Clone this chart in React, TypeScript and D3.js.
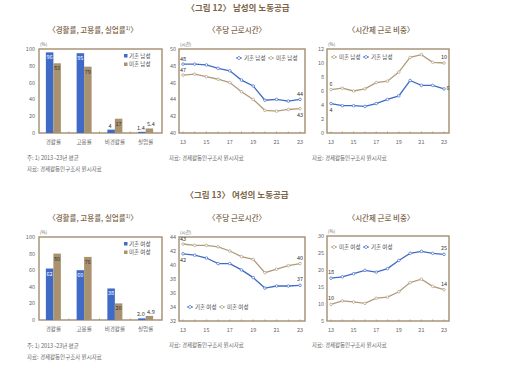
import React from "react";
import * as d3 from "d3";

const FONT = '"Noto Sans CJK KR", "Noto Sans", sans-serif';
const BLUE = "#3f6bc6";
const TAN = "#a8926f";
const TAN_LINE = "#b09c7c";
const FRAME = "#a8937500";
const BORDER = "#a38e70";
const TEXT = "#666";
const TITLE = "#7a6347";

// bar charts
const categories = ["경활률", "고용률", "비경활률", "실업률"];
const maleMarriedRates = [96, 95, 4, 1.4];
const maleSingleRates = [83, 79, 17, 5.4];
const femaleMarriedRates = [62, 60, 38, 2.0];
const femaleSingleRates = [80, 76, 20, 4.9];
const barTicks = [0, 20, 40, 60, 80, 100];

// line charts (2013~2023)
const years = [13, 14, 15, 16, 17, 18, 19, 20, 21, 22, 23];
const yearTicks = [13, 15, 17, 19, 21, 23];
const maleHoursMarried = [48.2, 48.2, 48.1, 47.7, 47.4, 46.3, 45.6, 43.9, 44.0, 43.8, 44.0];
const maleHoursSingle = [46.9, 47.0, 46.7, 46.4, 46.0, 44.9, 44.0, 42.7, 42.6, 42.8, 42.9];
const malePartMarried = [4.2, 3.9, 3.9, 3.8, 4.2, 4.8, 5.3, 7.5, 6.8, 6.8, 6.3];
const malePartSingle = [6.2, 6.4, 6.0, 6.3, 7.2, 7.4, 8.7, 10.8, 11.2, 10.1, 10.0];
const femaleHoursMarried = [41.6, 41.4, 41.0, 40.2, 40.2, 39.3, 38.2, 36.7, 37.0, 37.0, 37.1];
const femaleHoursSingle = [43.0, 42.8, 42.8, 42.6, 42.0, 41.2, 40.8, 38.9, 39.4, 39.9, 40.2];
const femalePartMarried = [17.6, 18.0, 18.9, 19.9, 19.4, 20.4, 22.8, 24.9, 25.5, 24.9, 24.6];
const femalePartSingle = [9.9, 10.9, 10.6, 10.2, 11.7, 12.0, 13.6, 16.3, 17.3, 15.2, 14.2];
const maleHoursTicks = [40, 42, 44, 46, 48, 50];
const malePartTicks = [0, 2, 4, 6, 8, 10, 12];
const femaleHoursTicks = [32, 34, 36, 38, 40, 42, 44];
const femalePartTicks = [5, 10, 15, 20, 25, 30];

const SOURCE = "자료: 경제활동인구조사 원시자료";

interface Box { left: number; right: number; top: number; bottom: number; }

const BarPanel = ({ box, married, single, names }: { box: Box; married: number[]; single: number[]; names: string[] }) => {
  const x = d3.scaleBand<string>().domain(categories).range([box.left - 1, box.right - 1]);
  const y = d3.scaleLinear().domain([0, 100]).range([box.bottom, box.top]);
  const mid = x.bandwidth() / 2;
  const sub = d3.scaleBand<string>().domain(["m", "s"]).range([mid - 7.5, mid + 7.5]);
  const fmt = (v: number, i: number) => (i === 3 ? d3.format(".1f")(v) : d3.format("d")(v));
  return (
    <g>
      <rect x={box.left} y={box.top} width={box.right - box.left} height={box.bottom - box.top} fill="none" stroke={BORDER} strokeWidth={1.4} />
      <text x={box.left + 1} y={box.top - 3} fontSize={4.5} fill={TEXT}>(%)</text>
      {barTicks.map(t => (
        <text key={t} x={box.left - 4} y={y(t) + 2} textAnchor="end" fontSize={5.5} fill={TEXT}>{t}</text>
      ))}
      {categories.slice(1).map(c => (
        <line key={c} x1={x(c)!} x2={x(c)!} y1={box.bottom} y2={box.bottom - 1.5} stroke={BORDER} strokeWidth={0.8} />
      ))}
      {categories.map((c, i) => {
        const gx = x(c)!;
        const bars = [
          { k: "m", v: married[i], color: BLUE, txt: "#fff" },
          { k: "s", v: single[i], color: TAN, txt: "#333" },
        ];
        return (
          <g key={c}>
            {bars.map(b => {
              const bx = gx + sub(b.k)!;
              const inside = b.v > 10;
              const lx = bx + sub.bandwidth() / 2 + (inside ? 0 : b.k === "m" ? -1 : 1.5);
              return (
                <g key={b.k}>
                  <rect x={bx} y={y(b.v)} width={sub.bandwidth()} height={box.bottom - y(b.v)} fill={b.color} />
                  <text x={lx} y={inside ? y(b.v) + 7 : y(b.v) - 2} textAnchor="middle" fontSize={5.5} fill={inside ? b.txt : "#333"}>{fmt(b.v, i)}</text>
                </g>
              );
            })}
            <text x={gx + mid} y={box.bottom + 11} textAnchor="middle" fontSize={5.5} fill={TEXT}>{c}</text>
          </g>
        );
      })}
      {names.map((n, i) => (
        <g key={n}>
          <rect x={box.right - 38} y={box.top + 5 + i * 8.5} width={3.5} height={3.5} fill={i === 0 ? BLUE : TAN} />
          <text x={box.right - 33} y={box.top + 8.5 + i * 8.5} fontSize={5.5} fill="#444">{n}</text>
        </g>
      ))}
    </g>
  );
};

interface Series { values: number[]; color: string; name: string; start: [number, number]; end: [number, number]; }

const Marker = ({ cx, cy, color }: { cx: number; cy: number; color: string }) => (
  <path d={`M${cx},${cy - 1.8}L${cx + 1.8},${cy}L${cx},${cy + 1.8}L${cx - 1.8},${cy}Z`} fill="#fff" stroke={color} strokeWidth={0.8} />
);

const LinePanel = ({ box, domain, ticks, unit, series, legend }: {
  box: Box; domain: [number, number]; ticks: number[]; unit: string; series: Series[]; legend: { x: number; y: number; order: number[] };
}) => {
  const x = d3.scaleLinear().domain([13, 23]).range([box.left + 4, box.right - 5]);
  const y = d3.scaleLinear().domain(domain).range([box.bottom, box.top]);
  const line = d3.line<number>().x((_, i) => x(years[i])).y(v => y(v));
  return (
    <g>
      <rect x={box.left} y={box.top} width={box.right - box.left} height={box.bottom - box.top} fill="none" stroke={BORDER} strokeWidth={1.4} />
      <text x={box.left + 1} y={box.top - 3} fontSize={4.5} fill={TEXT}>{unit}</text>
      {ticks.map(t => (
        <text key={t} x={box.left - 3} y={y(t) + 2} textAnchor="end" fontSize={5.5} fill={TEXT}>{t}</text>
      ))}
      {years.map(yr => (
        <line key={yr} x1={x(yr)} x2={x(yr)} y1={box.bottom} y2={box.bottom - 1.5} stroke={BORDER} strokeWidth={0.8} />
      ))}
      {yearTicks.map(t => (
        <text key={t} x={x(t)} y={box.bottom + 11} textAnchor="middle" fontSize={5.5} fill={TEXT}>{t}</text>
      ))}
      {series.map(s => (
        <g key={s.name}>
          <path d={line(s.values)!} fill="none" stroke={s.color} strokeWidth={1.3} />
          {s.values.map((v, i) => (
            <circle key={i} cx={x(years[i])} cy={y(v)} r={1.3} fill="#fff" stroke={s.color} strokeWidth={0.7} />
          ))}
          <text x={x(13) + s.start[0]} y={y(s.values[0]) + s.start[1]} textAnchor="middle" fontSize={5.5} fill="#333">{Math.round(s.values[0])}</text>
          <text x={x(23) + s.end[0]} y={y(s.values[10]) + s.end[1]} textAnchor="middle" fontSize={5.5} fill="#333">{Math.round(s.values[10])}</text>
        </g>
      ))}
      {legend.order.map((k, i) => {
        const s = series[k];
        const lx = legend.x + i * 32;
        return (
          <g key={s.name}>
            <line x1={lx} x2={lx + 6} y1={legend.y} y2={legend.y} stroke={s.color} strokeWidth={1} />
            <Marker cx={lx + 3} cy={legend.y} color={s.color} />
            <text x={lx + 8} y={legend.y + 2} fontSize={5.5} fill="#444">{s.name}</text>
          </g>
        );
      })}
    </g>
  );
};

const Title = ({ x, y, text, size, weight }: { x: number; y: number; text: React.ReactNode; size: number; weight?: number }) => (
  <text x={x} y={y} textAnchor="middle" fontSize={size} fontWeight={weight ?? 500} fill={TITLE}>{text}</text>
);

export default function App() {
  const barTop: Box = { left: 39, right: 162, top: 49, bottom: 133 };
  const barBot: Box = { left: 39, right: 162, top: 237, bottom: 320 };
  const hrsTop: Box = { left: 179, right: 305, top: 49, bottom: 133 };
  const hrsBot: Box = { left: 179, right: 305, top: 237, bottom: 321 };
  const ptTop: Box = { left: 327, right: 449, top: 49, bottom: 133 };
  const ptBot: Box = { left: 327, right: 449, top: 236, bottom: 321 };
  const sup = (t: string) => (
    <>
      {t}<tspan fontSize={5} dy={-3}>1)</tspan><tspan dy={3}>〉</tspan>
    </>
  );
  return (
    <svg width={512} height={372} style={{ position: "absolute", left: 0, top: 0, background: "#fff" }} fontFamily={FONT}>
      <Title x={238} y={11} text="〈그림 12〉 남성의 노동공급" size={8.5} weight={600} />
      <Title x={93} y={33} text={sup("〈경활률, 고용률, 실업률")} size={7.5} />
      <Title x={237} y={33} text="〈주당 근로시간〉" size={7.5} />
      <Title x={381} y={33} text="〈시간제 근로 비중〉" size={7.5} />

      <BarPanel box={barTop} married={maleMarriedRates} single={maleSingleRates} names={["기혼 남성", "미혼 남성"]} />
      <LinePanel box={hrsTop} domain={[40, 50]} ticks={maleHoursTicks} unit="(시간)"
        series={[
          { values: maleHoursMarried, color: BLUE, name: "기혼 남성", start: [0, -3.5], end: [0, -3.5] },
          { values: maleHoursSingle, color: TAN_LINE, name: "미혼 남성", start: [0, -3.5], end: [0, 8] },
        ]}
        legend={{ x: 236, y: 58, order: [0, 1] }} />
      <LinePanel box={ptTop} domain={[0, 12]} ticks={malePartTicks} unit="(%)"
        series={[
          { values: malePartMarried, color: BLUE, name: "기혼 남성", start: [0, 8], end: [4, 1] },
          { values: malePartSingle, color: TAN_LINE, name: "미혼 남성", start: [0, -4], end: [0, -4] },
        ]}
        legend={{ x: 331, y: 57, order: [1, 0] }} />

      <text x={27} y={160} fontSize={5.5} fill={TEXT}>주: 1) 2013~23년 평균</text>
      <text x={27} y={171} fontSize={5.5} fill={TEXT}>{SOURCE}</text>
      <text x={169} y={160} fontSize={5.5} fill={TEXT}>{SOURCE}</text>
      <text x={312} y={160} fontSize={5.5} fill={TEXT}>{SOURCE}</text>

      <Title x={237} y={198} text="〈그림 13〉 여성의 노동공급" size={8.5} weight={600} />
      <Title x={93} y={221} text={sup("〈경활률, 고용률, 실업률")} size={7.5} />
      <Title x={237} y={221} text="〈주당 근로시간〉" size={7.5} />
      <Title x={381} y={221} text="〈시간제 근로 비중〉" size={7.5} />

      <BarPanel box={barBot} married={femaleMarriedRates} single={femaleSingleRates} names={["기혼 여성", "미혼 여성"]} />
      <LinePanel box={hrsBot} domain={[32, 44]} ticks={femaleHoursTicks} unit="(시간)"
        series={[
          { values: femaleHoursMarried, color: BLUE, name: "기혼 여성", start: [0, 8], end: [0, -4] },
          { values: femaleHoursSingle, color: TAN_LINE, name: "미혼 여성", start: [0, -3], end: [0, -4] },
        ]}
        legend={{ x: 187, y: 307, order: [0, 1] }} />
      <LinePanel box={ptBot} domain={[5, 30]} ticks={femalePartTicks} unit="(%)"
        series={[
          { values: femalePartMarried, color: BLUE, name: "기혼 여성", start: [0, -4], end: [0, -4] },
          { values: femalePartSingle, color: TAN_LINE, name: "미혼 여성", start: [0, -4], end: [0, -4] },
        ]}
        legend={{ x: 331, y: 247, order: [1, 0] }} />

      <text x={27} y={348} fontSize={5.5} fill={TEXT}>주: 1) 2013~23년 평균</text>
      <text x={27} y={359} fontSize={5.5} fill={TEXT}>{SOURCE}</text>
      <text x={169} y={347} fontSize={5.5} fill={TEXT}>{SOURCE}</text>
      <text x={312} y={347} fontSize={5.5} fill={TEXT}>{SOURCE}</text>
    </svg>
  );
}
